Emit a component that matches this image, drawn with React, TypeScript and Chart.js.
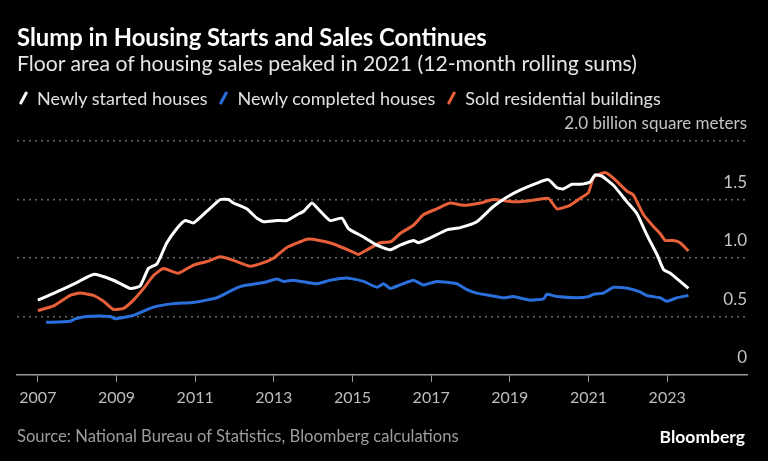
import React, { useEffect, useRef } from "react";
import { Chart, registerables } from "chart.js";

Chart.register(...registerables);

// ---- Data (decimal years, billion square meters) ----
const startedX = [2007.0, 2007.48, 2007.99, 2008.41, 2008.92, 2009.35, 2009.6, 2009.81, 2010.03, 2010.28, 2010.53, 2010.74, 2010.96, 2011.3, 2011.64, 2011.85, 2011.97, 2012.31, 2012.57, 2012.74, 2013.08, 2013.33, 2013.59, 2013.76, 2013.97, 2014.18, 2014.43, 2014.73, 2014.9, 2015.28, 2015.62, 2015.96, 2016.21, 2016.55, 2016.68, 2016.97, 2017.4, 2017.74, 2018.16, 2018.58, 2018.92, 2019.26, 2019.69, 2019.98, 2020.2, 2020.36, 2020.58, 2020.79, 2021.04, 2021.17, 2021.34, 2021.64, 2021.98, 2022.23, 2022.48, 2022.74, 2022.91, 2023.08, 2023.33, 2023.54];
const startedY = [0.64, 0.71, 0.79, 0.86, 0.81, 0.74, 0.76, 0.91, 0.95, 1.13, 1.25, 1.32, 1.3, 1.4, 1.5, 1.5, 1.47, 1.42, 1.34, 1.31, 1.32, 1.32, 1.37, 1.4, 1.47, 1.4, 1.32, 1.34, 1.25, 1.18, 1.11, 1.07, 1.11, 1.15, 1.13, 1.17, 1.24, 1.26, 1.31, 1.44, 1.52, 1.58, 1.64, 1.67, 1.6, 1.59, 1.63, 1.63, 1.65, 1.71, 1.7, 1.62, 1.48, 1.38, 1.2, 1.03, 0.9, 0.87, 0.8, 0.74];

const completedX = [2007.21, 2007.82, 2007.95, 2008.25, 2008.84, 2008.97, 2009.43, 2009.94, 2010.45, 2010.96, 2011.55, 2011.97, 2012.19, 2012.74, 2013.08, 2013.25, 2013.5, 2014.09, 2014.43, 2014.86, 2015.28, 2015.62, 2015.79, 2015.96, 2016.21, 2016.55, 2016.8, 2017.14, 2017.65, 2017.91, 2018.16, 2018.5, 2018.84, 2019.09, 2019.5, 2019.86, 2019.94, 2020.2, 2020.7, 2021.0, 2021.13, 2021.38, 2021.64, 2022.02, 2022.31, 2022.48, 2022.82, 2022.99, 2023.25, 2023.54];
const completedY = [0.45, 0.46, 0.48, 0.5, 0.5, 0.48, 0.51, 0.58, 0.61, 0.62, 0.66, 0.73, 0.76, 0.79, 0.82, 0.8, 0.81, 0.78, 0.81, 0.83, 0.8, 0.75, 0.78, 0.74, 0.77, 0.81, 0.77, 0.8, 0.78, 0.73, 0.7, 0.68, 0.66, 0.67, 0.64, 0.65, 0.69, 0.67, 0.66, 0.67, 0.69, 0.7, 0.75, 0.74, 0.71, 0.68, 0.66, 0.63, 0.66, 0.68];

const soldX = [2007.0, 2007.4, 2007.82, 2008.07, 2008.41, 2008.67, 2008.92, 2009.18, 2009.43, 2009.69, 2009.94, 2010.19, 2010.57, 2010.96, 2011.3, 2011.64, 2011.97, 2012.4, 2012.74, 2013.0, 2013.33, 2013.84, 2014.0, 2014.52, 2015.02, 2015.15, 2015.37, 2015.7, 2015.98, 2016.21, 2016.55, 2016.8, 2017.14, 2017.48, 2017.82, 2018.25, 2018.58, 2019.09, 2019.5, 2019.98, 2020.2, 2020.53, 2020.79, 2021.0, 2021.13, 2021.42, 2021.64, 2021.98, 2022.14, 2022.4, 2022.65, 2022.82, 2022.95, 2023.16, 2023.33, 2023.54];
const soldY = [0.55, 0.59, 0.68, 0.7, 0.68, 0.63, 0.56, 0.57, 0.64, 0.74, 0.85, 0.91, 0.87, 0.94, 0.97, 1.01, 0.98, 0.93, 0.96, 1.0, 1.09, 1.16, 1.16, 1.12, 1.05, 1.03, 1.07, 1.13, 1.14, 1.21, 1.28, 1.37, 1.42, 1.47, 1.45, 1.47, 1.5, 1.48, 1.49, 1.51, 1.42, 1.45, 1.51, 1.56, 1.69, 1.73, 1.68, 1.57, 1.54, 1.37, 1.27, 1.21, 1.15, 1.15, 1.13, 1.06];

const xTickYears = [2007, 2009, 2011, 2013, 2015, 2017, 2019, 2021, 2023];
const yTickValues = [0, 0.5, 1, 1.5, 2];
const yTickLabels = ["0", "0.5", "1.0", "1.5", "2.0 billion square meters"];

const seriesNames = ["Newly started houses", "Newly completed houses", "Sold residential buildings"];
const seriesColors = ["#ffffff", "#2b6fdc", "#e8603a"];

const FONT = "Lato, 'Open Sans', sans-serif";

function toPoints(xs: number[], ys: number[]) {
  return xs.map((x, i) => ({ x, y: ys[i] }));
}

export default function App() {
  const canvasRef = useRef<HTMLCanvasElement | null>(null);

  useEffect(() => {
    document.body.style.margin = "0";
    document.body.style.background = "#000";
    const canvas = canvasRef.current;
    if (!canvas) return;
    const chart = new Chart(canvas, {
      type: "line",
      data: {
        datasets: [
          { label: seriesNames[0], data: toPoints(startedX, startedY), borderColor: seriesColors[0], borderWidth: 3, pointRadius: 0, fill: false, tension: 0.15 },
          { label: seriesNames[2], data: toPoints(soldX, soldY), borderColor: seriesColors[2], borderWidth: 3, pointRadius: 0, fill: false, tension: 0.15 },
          { label: seriesNames[1], data: toPoints(completedX, completedY), borderColor: seriesColors[1], borderWidth: 3, pointRadius: 0, fill: false, tension: 0.15 },
        ],
      },
      options: {
        animation: false,
        responsive: true,
        maintainAspectRatio: false,
        layout: { padding: { top: 141, left: 17, right: 21, bottom: 0 } },
        plugins: { legend: { display: false }, tooltip: { enabled: false } },
        scales: {
          x: {
            type: "linear",
            min: 2006.47,
            max: 2025.03,
            afterBuildTicks: (s: any) => {
              s.ticks = xTickYears.map((v) => ({ value: v }));
            },
            afterFit: (s: any) => {
              s.height = 86;
            },
            ticks: {
              color: "#bdbdbd",
              font: { family: FONT, size: 16 },
              padding: 6,
              maxRotation: 0,
              autoSkip: false,
              callback: (v: any) => String(v),
            },
            grid: { display: true, drawOnChartArea: false, drawTicks: true, tickLength: 7, color: "#9a9a9a", lineWidth: 1 },
            border: { display: true, color: "#9a9a9a", width: 1.5 },
          },
          y: {
            position: "right",
            min: 0,
            max: 2,
            afterBuildTicks: (s: any) => {
              s.ticks = yTickValues.map((v) => ({ value: v }));
            },
            afterFit: (s: any) => {
              s.width = 0;
            },
            ticks: {
              mirror: true,
              padding: 0,
              labelOffset: -17,
              color: "#c4c4c4",
              font: { family: FONT, size: 17 },
              callback: (v: any) => {
                const i = yTickValues.indexOf(Number(v));
                return i >= 0 ? yTickLabels[i] : "";
              },
            },
            grid: {
              drawTicks: false,
              color: (ctx: any) => (ctx.tick && ctx.tick.value === 0 ? "rgba(0,0,0,0)" : "#6a6a6a"),
              lineWidth: 1.5,
            },
            border: { display: false, dash: [2, 4] },
          },
        },
      },
    } as any);
    return () => chart.destroy();
  }, []);

  const textBase: React.CSSProperties = { position: "absolute", left: 17, fontFamily: FONT, whiteSpace: "nowrap", lineHeight: 1 };

  return (
    <div style={{ position: "fixed", left: 0, top: 0, width: 768, height: 461, background: "#000", overflow: "hidden" }}>
      <canvas ref={canvasRef} style={{ position: "absolute", left: 0, top: 0, width: 768, height: 461 }} />
      <div style={{ ...textBase, top: 26, fontSize: 23.8, fontWeight: 700, color: "#fff" }}>
        Slump in Housing Starts and Sales Continues
      </div>
      <div style={{ ...textBase, top: 53, fontSize: 21.2, color: "#e6e6e6" }}>
        Floor area of housing sales peaked in 2021 (12-month rolling sums)
      </div>
      <div style={{ ...textBase, top: 89, fontSize: 18, color: "#e0e0e0", display: "flex", alignItems: "center" }}>
        {seriesNames.map((n, i) => (
          <span key={n} style={{ display: "inline-flex", alignItems: "center", marginRight: 10 }}>
            <span style={{ display: "inline-block", width: 3, height: 14, background: seriesColors[i], transform: "rotate(28deg)", borderRadius: 1, marginLeft: 5, marginRight: 12 }} />
            {n}
          </span>
        ))}
      </div>
      <div style={{ ...textBase, top: 428, fontSize: 16.6, color: "#9d9d9d" }}>
        Source: National Bureau of Statistics, Bloomberg calculations
      </div>
      <div style={{ position: "absolute", right: 23, top: 428, fontFamily: FONT, fontSize: 17.5, fontWeight: 700, color: "#fff", lineHeight: 1 }}>
        Bloomberg
      </div>
    </div>
  );
}
